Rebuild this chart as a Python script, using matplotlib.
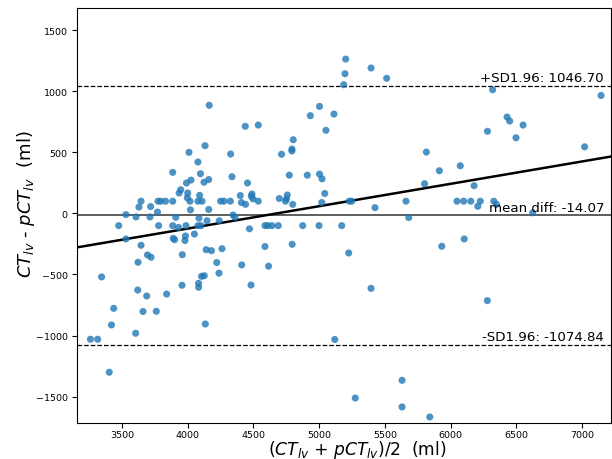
import matplotlib
matplotlib.use("Agg")
import matplotlib.pyplot as plt
import matplotlib.transforms as mtransforms
import numpy as np

# Mean of the two volume measurements (ml)
mean_volume = [
    3260, 3315, 3345, 3403, 3420, 3437, 3475, 3530, 3530, 3607,
    3604, 3620, 3622, 3629, 3645, 3645, 3660, 3688, 3694, 3721,
    3713, 3718, 3761, 3770, 3779, 3774, 3795, 3831, 3840,
    3886, 3886, 3886, 3890, 3900, 3909, 3930, 3935, 3947, 3959,
    3957, 3983, 3979, 3987, 3991, 4000, 3997, 4010, 4017, 4025,
    4021, 4051, 4078, 4078, 4086, 4078, 4083, 4083, 4091,
    4097, 4109, 4101, 4105, 4124, 4132, 4126, 4164, 4134, 4141,
    4147, 4160, 4160, 4181, 4221, 4238, 4240, 4250, 4276, 4261,
    4327, 4324, 4337, 4345, 4360, 4411, 4438, 4455, 4400, 4409,
    4440, 4470, 4482, 4489, 4484, 4497,
    4537, 4537, 4588, 4615, 4588, 4609, 4641, 4689, 4697, 4714,
    4744, 4752, 4758, 4773, 4793, 4793, 4803, 4799, 4795,
    4875, 4910, 4933, 5003, 5003, 5022, 4999, 5043, 5020, 5052,
    5113, 5119, 5172, 5187, 5197, 5202, 5225, 5229, 5248, 5275,
    5395, 5395, 5425, 5514, 5631, 5631, 5661, 5682, 5802, 5816,
    5842, 5915, 5933, 6049, 6074, 6100, 6104, 6154, 6179, 6207,
    6226, 6281, 6280, 6320, 6329, 6350, 6430, 6450, 6498, 6552,
    6625, 7020, 7145,
]

# Difference between the two volume measurements (ml)
volume_diff = [
    -1030, -1030, -520, -1300, -913, -777, -100, -10, -209, -29,
    -981, -627, -400, 52, 100, -261, -803, -676, -340, -359,
    -29, 56, -801, 11, -100, 100, 100, 100, -660,
    336, 100, -100, -204, -215, -32, -115, 167, 194, -338,
    -588, -185, -222, -100, 249, 167, 128, 500, 100, 273,
    29, -169, 421, 100, -39, -100, -572, -605, 148,
    325, 100, -100, -515, 255, 554, -510, 885, -905, -297,
    -60, 277, 32, -305, -402, -489, -60, 100, 100, -289,
    486, 100, 300, -13, -32, -422, 713, 249, 146, 89,
    74, -126, -586, 159, 141, 119,
    723, 100, -271, -432, -100, -100, -100, -100, 122, 484,
    100, 119, 151, 313, 527, 511, 603, 74, -253,
    -100, 313, 800, 876, 322, 283, -100, 163, 89, 680,
    813, -1032, -100, 1053, 1143, 1263, -324, 100, 100, -1511,
    1190, -613, 47, 1106, -1366, -1584, 100, -34, 243, 502,
    -1666, 349, -269, 100, 390, 100, -209, 100, 227, 58,
    100, 672, -714, 1012, 100, 74, 789, 756, 619, 723,
    5, 545, 965,
]

# Agreement statistics
mean_diff = -14.07
upper_loa = 1046.70
lower_loa = -1074.84

# Linear trend of the differences against the mean
trend_slope = 0.183
trend_intercept = -856.0

x_ticks = [3500, 4000, 4500, 5000, 5500, 6000, 6500, 7000]
y_ticks = [-1500, -1000, -500, 0, 500, 1000, 1500]

fig = plt.figure(figsize=(6.12, 4.6), dpi=100)
ax = fig.add_axes([0.1263, 0.0789, 0.8721, 0.9015])

ax.scatter(mean_volume, volume_diff, s=26, color="#1f77b4", alpha=0.8,
           edgecolors="none", zorder=3)

ax.axhline(mean_diff, color="#333333", linewidth=1.1, zorder=2)
ax.axhline(upper_loa, color="black", linestyle="--", linewidth=0.9, zorder=2)
ax.axhline(lower_loa, color="black", linestyle="--", linewidth=0.9, zorder=2)
ax.axline((0, trend_intercept), slope=trend_slope, color="black",
          linewidth=1.8, zorder=2)

ax.set_xlim(3160, 7221)
ax.set_ylim(-1713, 1681)
ax.set_xticks(x_ticks)
ax.set_yticks(y_ticks)
ax.tick_params(labelsize=6.8, length=3.5)
ax.tick_params(axis="x", pad=1.5)

trans = mtransforms.blended_transform_factory(ax.transAxes, ax.transData)
label_kw = dict(transform=trans, ha="right", va="bottom", fontsize=9.6)
ax.text(0.987, upper_loa + 12, f"+SD1.96: {upper_loa:.2f}", **label_kw)
ax.text(0.987, mean_diff + 12, f"mean diff: {mean_diff:.2f}", **label_kw)
ax.text(0.987, lower_loa + 12, f"-SD1.96: {lower_loa:.2f}", **label_kw)

ax.set_xlabel(r"$(CT_{lv}$ + $pCT_{lv})/2$  (ml)", fontsize=12.3)
ax.set_ylabel(r"$CT_{lv}$ - $pCT_{lv}$  (ml)", fontsize=13)
ax.xaxis.set_label_coords(0.525, -0.038, transform=ax.transAxes)
ax.xaxis.label.set_va("top")
ax.yaxis.set_label_coords(-0.075, 0.53, transform=ax.transAxes)

fig.savefig("out.png", dpi=100)
